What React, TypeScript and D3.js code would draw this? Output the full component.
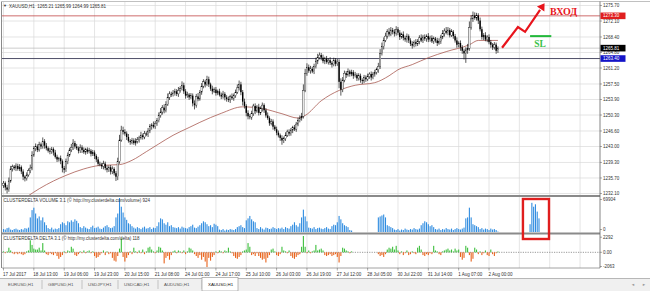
import React from "react";
import * as d3 from "d3";

// ---------- DATA ----------
const firstOpen = 1234.0;
const closes = [
  1234.5,1233.5,1233.0,1235.0,1237.8,1238.3,1238.0,1238.5,1237.8,1238.2,1237.2,1236.0,1235.6,1236.4,1237.4,1238.0,1241.0,1242.5,1243.0,1242.2,
  1243.5,1243.0,1244.2,1243.2,1242.6,1242.0,1241.8,1242.4,1241.6,1240.6,1240.0,1240.3,1239.6,1238.0,1237.6,1239.5,1241.0,1242.2,1242.8,1243.8,
  1243.0,1242.6,1242.0,1242.8,1242.2,1241.7,1242.3,1241.8,1242.0,1241.3,1241.6,1240.8,1240.0,1239.0,1238.8,1238.4,1239.0,1238.0,1237.6,1238.2,
  1237.2,1237.8,1236.8,1236.0,1239.5,1244.5,1246.8,1246.4,1246.0,1245.2,1244.3,1244.0,1244.4,1243.8,1244.2,1244.6,1245.0,1245.6,1245.2,1246.0,
  1245.8,1246.6,1247.6,1248.0,1247.6,1248.4,1249.0,1250.2,1251.0,1252.0,1251.4,1252.8,1254.4,1255.2,1255.0,1255.4,1255.8,1255.2,1256.0,1256.4,
  1257.2,1255.8,1254.8,1255.0,1254.4,1254.8,1253.0,1252.6,1254.6,1254.0,1255.6,1257.0,1258.0,1257.4,1258.6,1257.4,1256.4,1255.8,1256.2,1255.4,
  1255.8,1255.0,1254.6,1255.2,1254.4,1254.0,1253.8,1254.6,1254.2,1254.8,1255.6,1256.6,1257.4,1255.6,1253.4,1252.4,1250.8,1250.0,1249.8,1250.6,
  1252.4,1251.2,1252.2,1250.8,1251.8,1252.6,1251.4,1250.2,1249.6,1248.4,1248.8,1247.6,1247.0,1246.2,1245.6,1245.0,1244.4,1244.8,1245.6,1246.4,
  1246.0,1246.8,1247.4,1247.0,1248.2,1249.0,1249.6,1250.0,1256.0,1260.0,1261.4,1260.6,1261.0,1260.4,1261.6,1262.8,1263.6,1264.2,1263.6,1262.8,
  1263.4,1262.6,1263.0,1262.4,1262.0,1263.0,1262.2,1262.6,1258.0,1256.2,1258.4,1260.0,1259.6,1260.4,1259.8,1260.2,1259.4,1259.6,1258.8,1259.4,
  1258.4,1258.2,1259.0,1258.6,1259.2,1259.8,1259.0,1259.8,1260.2,1260.8,1261.6,1264.6,1266.2,1267.6,1268.6,1269.6,1269.0,1270.0,1269.6,1269.2,
  1270.2,1269.4,1268.4,1269.0,1268.2,1267.8,1268.6,1267.6,1266.8,1266.4,1267.2,1266.8,1267.4,1268.2,1267.6,1268.4,1268.0,1268.6,1267.8,1268.2,
  1267.4,1268.0,1267.6,1267.0,1267.4,1268.4,1269.2,1269.8,1269.4,1270.0,1268.8,1269.6,1268.6,1267.6,1266.6,1267.0,1266.0,1265.2,1264.6,1265.4,
  1265.8,1270.6,1272.6,1273.4,1272.8,1273.4,1272.2,1270.2,1268.4,1268.8,1267.8,1268.4,1267.2,1266.6,1266.0,1266.6,1265.2,1265.81,
];
const wickUp = [
  .5,.4,.6,.8,.7,.5,.4,.6,.5,.7,.4,.5,.3,.6,.5,.8,.9,.6,.7,.5,
  .6,.4,.9,.5,.6,.4,.7,.5,.4,.6,.5,.3,.6,.4,.5,.7,.6,.5,.8,.9,
  .5,.6,.4,.7,.5,.6,.4,.5,.7,.4,.6,.5,.4,.6,.5,.4,.7,.5,.6,.4,
  .5,.6,.4,.5,.9,1.2,1.0,.8,.6,.5,.7,.4,.6,.5,.7,.6,.5,.8,.4,.6,
  .5,.7,.6,.4,.8,.5,.6,.7,.9,.6,.8,.7,.9,.6,.5,.7,.6,.5,.8,.6,
  .9,.6,.5,.7,.4,.6,.5,.7,.6,.8,.5,.7,.6,.5,.8,.6,.4,.7,.5,.6,
  .4,.6,.5,.7,.4,.5,.6,.4,.7,.5,.6,.8,.9,.6,.5,.7,.4,.6,.5,.7,
  .5,.6,.4,.7,.5,.6,.4,.5,.7,.4,.6,.5,.4,.6,.5,.4,.6,.5,.7,.5,
  .6,.5,.4,.6,.5,.7,.6,.8,1.4,1.0,.9,.6,.7,.5,.6,.8,.9,.6,.5,.7,
  .4,.6,.5,.7,.4,.6,.5,.7,.6,.8,.7,.6,.5,.7,.4,.6,.5,.7,.4,.6,
  .5,.4,.6,.5,.7,.4,.6,.5,.6,.5,.8,1.0,.9,.7,.8,.6,.9,.7,.5,.6,
  .7,.5,.6,.4,.7,.5,.6,.4,.5,.6,.4,.7,.5,.6,.8,.5,.6,.4,.7,.5,
  .6,.5,.4,.6,.7,.5,.8,.6,.9,.7,.5,.6,.4,.5,.7,.4,.6,.5,.4,.6,
  1.0,1.4,.9,.9,.7,.6,.5,.7,.6,.5,.7,.4,.6,.5,.4,.6,.5,.4,
];
const wickDown = [
  .6,.7,.9,.5,.4,.6,.5,.7,.4,.5,.6,.8,.7,.5,.4,.6,.5,.4,.6,.5,
  .4,.6,.5,.7,.5,.4,.6,.5,.7,.4,.6,.5,.7,1.0,.8,.5,.6,.4,.5,.6,
  .5,.4,.6,.5,.7,.4,.6,.5,.4,.6,.5,.7,.6,.5,.4,.6,.7,.5,.6,.5,
  .7,.6,.5,1.0,.8,.5,.4,.6,.5,.7,.4,.6,.5,.4,.6,.5,.7,.4,.6,.5,
  .4,.6,.5,.7,.4,.5,.6,.4,.5,.6,.7,.5,.4,.6,.5,.4,.6,.5,.7,.5,
  .4,.6,.7,.5,.6,.4,.7,1.0,.6,.5,.4,.6,.5,.7,.4,.6,.5,.7,.4,.6,
  .5,.4,.6,.5,.7,.6,.5,.7,.4,.6,.5,.4,.6,.7,.9,.6,.8,.7,.5,.6,
  .5,.7,.4,.6,.5,.7,.6,.5,.4,.6,.5,.7,.4,.6,.5,.7,1.0,.6,.5,.4,
  .6,.5,.7,.4,.6,.5,.4,.6,.5,.4,.6,.5,.7,.4,.6,.5,.7,.4,.6,.5,
  .7,.4,.6,.5,.7,.4,.6,.5,1.5,1.4,.6,.5,.7,.4,.6,.5,.7,.4,.6,.5,
  .6,.7,.5,.6,.4,.5,.7,.4,.6,.5,.7,.6,.5,.7,.4,.6,.5,.4,.6,.7,
  .5,.6,.7,.4,.6,.5,.7,.6,.5,.7,.4,.6,.5,.7,.4,.6,.5,.7,.6,.5,
  .4,.6,.5,.7,.4,.6,.5,.7,.4,.6,.5,.4,.6,.5,.7,.6,.8,.7,1.4,2.2,
  .9,.6,.5,.7,.4,.6,.8,.5,.6,.7,.4,.6,.5,.7,.6,.5,.7,.5,
];
// moving average read at sampled bars: [bar, price]
const maPoints: [number, number][] = [
  [14,1231.6],[20,1233.2],[28,1235.0],[35,1236.3],[45,1237.8],[54,1238.6],[65,1238.8],[72,1239.8],
  [80,1241.8],[87,1243.6],[95,1245.6],[104,1247.4],[110,1248.6],[122,1250.7],[134,1252.2],[145,1251.8],
  [156,1250.6],[165,1249.6],[169,1250.2],[178,1253.6],[188,1256.0],[197,1257.2],[208,1257.8],[216,1259.4],
  [221,1260.8],[229,1262.0],[238,1263.6],[248,1265.0],[261,1266.6],[266,1267.6],[277,1267.6],
];
// volume, thousands
const volumeK = [
  6,5,8,9,5,4,6,7,5,4,6,5,8,7,9,
  30,45,50,38,28,32,24,30,20,14,
  8,6,9,5,7,6,8,
  16,20,18,14,
  22,20,24,21,26,23,18,
  10,8,12,9,7,6,10,13,8,9,11,7,6,9,12,14,10,8,9,12,
  30,38,69.9,52,40,30,25,18,16,12,
  9,7,10,8,6,9,11,7,8,10,6,9,8,12,
  20,28,26,
  18,15,20,12,14,10,
  9,8,10,7,11,9,8,7,10,12,15,9,8,11,
  14,18,22,20,16,12,14,10,17,15,12,
  5,4,6,3,5,4,6,5,4,6,
  10,12,14,10,8,
  24,28,33,26,22,20,
  8,6,10,7,5,9,8,6,7,10,8,
  6,8,7,9,6,10,8,7,
  12,15,20,14,11,
  18,30,46,32,22,
  9,8,7,10,6,8,9,7,6,8,10,7,6,
  12,15,14,20,33,26,18,14,12,10,
  4,3,
  0,0,0,0,0,0,0,0,0,0,0,0,0,0,
  30,32,34,36,30,
  14,12,10,8,
  5,4,6,3,5,4,7,5,4,6,5,8,6,5,7,
  14,18,22,20,16,12,14,10,
  6,5,7,4,6,5,8,6,5,7,4,6,8,6,5,7,9,
  28,30,50,30,
  16,14,12,10,
  6,8,5,7,6,4,7,5,6,4,0.924,
];
const forecastStart = 295;
const forecastVolumeK = [16, 60, 52, 57, 42, 28];
const delta = [
  130,-130,130,650,260,-130,-260,-130,-260,-130,-260,-390,-260,130,260,
  1690,1040,520,390,
  390,650,260,1300,260,
  -260,-390,-130,-260,-390,-130,
  -520,-910,-650,-390,
  130,-130,260,130,
  780,520,
  -390,-520,-260,
  130,-130,260,-130,130,260,-130,130,
  -520,-780,-650,-390,
  -130,260,-390,130,-260,-130,
  -780,-1170,-1300,-520,
  520,1950,-650,-1300,-780,-390,
  130,-260,650,130,-130,260,-130,390,-260,130,
  650,780,390,
  130,-130,260,
  780,650,260,
  -1560,-780,-520,-1040,-390,
  130,260,-130,260,130,-130,260,-260,130,
  650,520,260,
  -260,-520,-780,-390,-1040,-650,-1300,-2063,-780,-1170,-650,-390,
  130,-130,260,130,-130,260,130,650,130,
  -130,-520,-780,-910,-650,-390,
  130,260,
  390,1300,780,
  -390,-260,-520,-130,
  -520,-780,-1040,-910,-1430,-780,-390,
  390,520,130,
  -390,-520,-260,
  780,260,
  130,-130,260,
  -520,-780,-910,-650,-390,-260,
  780,2292,780,
  -130,260,-130,130,
  260,1040,260,
  390,520,260,
  -390,-520,-390,-260,-520,-390,-260,
  -650,-1430,-520,
  650,520,260,
  130,-130,130,
  0,0,0,0,0,0,0,0,0,0,0,0,0,0,
  -260,-520,-390,-650,-260,
  390,650,520,780,390,910,260,
  -260,130,-390,-130,260,-390,-260,130,-130,-260,
  650,910,390,
  -390,-520,-260,-390,-130,-260,
  910,260,
  130,-260,-390,130,
  260,390,520,260,390,130,520,260,390,
  -650,-1040,-780,
  910,650,
  -390,-1300,-910,
  650,390,
  -260,130,-390,-130,260,
  -390,-520,390,-260,-520,-130,118,
];
const priceTicks = [1232.10,1235.70,1239.30,1243.00,1246.60,1250.30,1253.90,1257.50,1261.20,1264.80,1268.40,1272.10,1275.70];
const timeLabels = ["17 Jul 2017","18 Jul 13:00","19 Jul 06:00","19 Jul 23:00","20 Jul 15:00","21 Jul 08:00","24 Jul 01:00","24 Jul 17:00","25 Jul 10:00","26 Jul 03:00","26 Jul 19:00","27 Jul 12:00","28 Jul 05:00","30 Jul 22:00","31 Jul 14:00","1 Aug 07:00","2 Aug 00:00"];
const labelStep = 17;
const entryLevel = 1273.30;
const bidPrice = 1265.81;
const supportLevel = 1263.40;
const volumeMax = 69904;
const deltaMax = 2292;
const deltaMin = -2063;
const titleText = "XAUUSD,H1  1265.21 1265.99 1264.99 1265.81";
const volumeTitle = "CLUSTERDELTA VOLUME 3.1 (\u00a9 http://my.clusterdelta.com/volume) 924";
const deltaTitle = "CLUSTERDELTA DELTA 3.1 (\u00a9 http://my.clusterdelta.com/delta) 118";
const tabs = ["EURUSD,H1","GBPUSD,H1","USDJPY,H1","USDCAD,H1","AUDUSD,H1","XAUUSD,H1"];
const tabEdges = [2, 42, 82, 118, 158, 202, 238];
// annotation (bar, price)
const arrowBars = [279.3, 288.2, 292.2, 300.6];
const arrowPrices = [1265.9, 1270.7, 1269.6, 1274.7];
const slBars = [295, 306.9];
const slPrice = 1268.6;
const slTextAt: [number, number] = [297.3, 1266.1];
const entryTextAt: [number, number] = [306.1, 1273.5];
const boxBars = [291, 305.6];

const FONT = "'Liberation Sans', Arial, sans-serif";
const FS = 4.5;

export default function App() {
  const W = 650, H = 291;
  const L = 2, R = 600;
  const mainTop = 2, mainBottom = 195;
  const volTop = 197, volBottom = 232.5;
  const dTop = 234.5, dBottom = 268;

  const x = d3.scaleLinear().domain([0, 1]).range([3.5, 3.5 + 1.785]);
  const yP = d3.scaleLinear().domain([1232.1, 1275.7]).range([193.5, 5.5]);
  const yV = d3.scaleLinear().domain([0, volumeMax / 1000]).range([232, 198]);
  const yD = d3.scaleLinear().domain([deltaMin, deltaMax]).range([267, 236]);

  const candles = closes.map((c, i) => {
    const o = i === 0 ? firstOpen : closes[i - 1];
    return { i, o, c, hi: Math.max(o, c) + wickUp[i], lo: Math.min(o, c) - wickDown[i] };
  });
  const maPath = d3.line<[number, number]>().x(d => x(d[0])).y(d => yP(d[1])).curve(d3.curveMonotoneX)(maPoints) || "";
  const gridBars = d3.range(0, 330, labelStep).filter(b => x(b) < R);

  const arrowPts = arrowBars.map((b, k) => [x(b), yP(arrowPrices[k])] as [number, number]);
  const [pA, pB] = [arrowPts[arrowPts.length - 2], arrowPts[arrowPts.length - 1]];
  const dx = pB[0] - pA[0], dy = pB[1] - pA[1];
  const len = Math.hypot(dx, dy);
  const ux = dx / len, uy = dy / len;
  const tip = [pB[0] + ux * 8, pB[1] + uy * 8];
  const base = [pB[0] + ux * 1, pB[1] + uy * 1];
  const head = [
    tip,
    [base[0] - uy * 4.5, base[1] + ux * 4.5],
    [base[0] + uy * 4.5, base[1] - ux * 4.5],
  ].map(p => p.join(",")).join(" ");

  const axisLabel = (v: string, y: number, key: string) => (
    <g key={key}>
      <line x1={R} x2={R + 2} y1={y} y2={y} stroke="#555" strokeWidth={0.5} />
      <text x={R + 3} y={y} dy="0.35em" fontSize={FS} fill="#333" fontFamily={FONT}>{v}</text>
    </g>
  );
  const levelLabel = (v: number, bg: string, key: string) => (
    <g key={key}>
      <rect x={R + 0.5} y={yP(v) - 3.3} width={25} height={6.6} fill={bg} />
      <text x={R + 3} y={yP(v)} dy="0.35em" fontSize={FS} fill="#fff" fontFamily={FONT}>{v.toFixed(2)}</text>
    </g>
  );

  return (
    <svg width={W} height={H} style={{ position: "absolute", left: 0, top: 0, display: "block" }}>
      <defs>
        <clipPath id="mainClip"><rect x={L} y={mainTop} width={R - L} height={mainBottom - mainTop} /></clipPath>
      </defs>
      <rect width={W} height={H} fill="#fff" />

      {/* grid */}
      {priceTicks.map(t => (
        <line key={"hg" + t} x1={L} x2={R} y1={yP(t)} y2={yP(t)} stroke="#dadada" strokeWidth={0.7} />
      ))}
      {gridBars.map(b => (
        <g key={"vg" + b}>
          <line x1={x(b)} x2={x(b)} y1={mainTop} y2={mainBottom} stroke="#dadada" strokeWidth={0.7} />
          <line x1={x(b)} x2={x(b)} y1={volTop} y2={volBottom} stroke="#dadada" strokeWidth={0.7} />
          <line x1={x(b)} x2={x(b)} y1={dTop} y2={dBottom} stroke="#dadada" strokeWidth={0.7} />
        </g>
      ))}

      <g clipPath="url(#mainClip)">
        <line x1={L} x2={R} y1={yP(entryLevel)} y2={yP(entryLevel)} stroke="#c24848" strokeWidth={0.8} />
        <line x1={L} x2={R} y1={yP(bidPrice)} y2={yP(bidPrice)} stroke="#b4b4b4" strokeWidth={0.7} />
        <line x1={L} x2={R} y1={yP(supportLevel)} y2={yP(supportLevel)} stroke="#3c3c58" strokeWidth={0.9} />
        <path d={maPath} fill="none" stroke="#a85a52" strokeWidth={0.8} />
        {candles.map(d => {
          const cx = x(d.i);
          const top = yP(Math.max(d.o, d.c));
          const bot = yP(Math.min(d.o, d.c));
          const bull = d.c >= d.o;
          return (
            <g key={"c" + d.i}>
              <line x1={cx} x2={cx} y1={yP(d.hi)} y2={yP(d.lo)} stroke="#111" strokeWidth={0.7} />
              <rect x={cx - 0.7} y={top} width={1.4} height={Math.max(0.6, bot - top)}
                fill={bull ? "#fff" : "#000"} stroke="#000" strokeWidth={bull ? 0.35 : 0} />
            </g>
          );
        })}
      </g>

      {/* annotations */}
      <polyline points={arrowPts.map(p => p.join(",")).join(" ")} fill="none" stroke="#e8141c" strokeWidth={2.2} strokeLinejoin="miter" />
      <polygon points={head} fill="#e8141c" />
      <text x={x(entryTextAt[0])} y={yP(entryTextAt[1])} fontSize={10} fontWeight="bold" fill="#e8141c"
        fontFamily="'Liberation Serif', 'DejaVu Serif', serif">ВХОД</text>
      <line x1={x(slBars[0])} x2={x(slBars[1])} y1={yP(slPrice)} y2={yP(slPrice)} stroke="#22b83a" strokeWidth={2} />
      <text x={x(slTextAt[0])} y={yP(slTextAt[1])} fontSize={9.5} fontWeight="bold" fill="#3cc24a"
        fontFamily="'Liberation Serif', 'DejaVu Serif', serif">SL</text>

      {/* volume */}
      {volumeK.map((v, i) => v > 0 ? (
        <rect key={"v" + i} x={x(i) - 0.55} y={yV(v)} width={1.1} height={yV(0) - yV(v)} fill="#2f8ce0" />
      ) : null)}
      {forecastVolumeK.map((v, k) => (
        <rect key={"fv" + k} x={x(forecastStart + k) - 0.55} y={yV(v)} width={1.1} height={yV(0) - yV(v)} fill="#2f8ce0" />
      ))}

      {/* delta */}
      <line x1={L} x2={R} y1={yD(0)} y2={yD(0)} stroke="#555" strokeWidth={0.6} strokeDasharray="1.2 1.2" />
      {delta.map((v, i) => v !== 0 ? (
        <rect key={"d" + i} x={x(i) - 0.55} y={Math.min(yD(v), yD(0))} width={1.1}
          height={Math.abs(yD(v) - yD(0))} fill={v > 0 ? "#3cbf3c" : "#e8631c"} />
      ) : null)}

      {/* separators and frame */}
      <rect x={L} y={mainBottom} width={R - L} height={2} fill="#8a8a8a" />
      <rect x={L} y={volBottom} width={R - L} height={2} fill="#8a8a8a" />
      <line x1={L} x2={R} y1={dBottom} y2={dBottom} stroke="#8a8a8a" strokeWidth={0.8} />
      <line x1={1.5} x2={1.5} y1={1.5} y2={dBottom} stroke="#8a8a8a" strokeWidth={1} />
      <line x1={1.5} x2={W} y1={1.5} y2={1.5} stroke="#b0b0b0" strokeWidth={0.8} />
      <line x1={R} x2={R} y1={1.5} y2={dBottom} stroke="#666" strokeWidth={0.8} />

      {/* title texts */}
      <text x={3} y={6} dy="0.35em" fontSize={4} fill="#333" fontFamily={FONT}>▼</text>
      <text x={9} y={6} dy="0.35em" fontSize={FS} fill="#333" fontFamily={FONT} style={{ whiteSpace: "pre" }}>{titleText}</text>
      <text x={3.5} y={200.5} dy="0.35em" fontSize={FS} fill="#333" fontFamily={FONT}>{volumeTitle}</text>
      <text x={3.5} y={238.5} dy="0.35em" fontSize={FS} fill="#333" fontFamily={FONT}>{deltaTitle}</text>

      {/* price axis */}
      {priceTicks.map(t => axisLabel(t.toFixed(2), yP(t), "pt" + t))}
      {levelLabel(entryLevel, "#e01e1e", "ll1")}
      {levelLabel(bidPrice, "#000", "ll2")}
      {levelLabel(supportLevel, "#1414c8", "ll3")}
      {axisLabel(String(volumeMax), yV(volumeMax / 1000) + 1.5, "vmax")}
      {axisLabel("0", yV(0) - 2.5, "vmin")}
      {axisLabel(String(deltaMax), yD(deltaMax) + 1.2, "dmax")}
      {axisLabel("0.00", yD(0), "d0")}
      {axisLabel(String(deltaMin), yD(deltaMin) - 0.5, "dmin")}

      {/* red box */}
      <rect x={x(boxBars[0])} y={199} width={x(boxBars[1]) - x(boxBars[0])} height={40} fill="none" stroke="#e01e1e" strokeWidth={2.4} />

      {/* time axis */}
      {timeLabels.map((t, k) => (
        <g key={"tl" + k}>
          <line x1={x(k * labelStep)} x2={x(k * labelStep)} y1={dBottom} y2={dBottom + 2.5} stroke="#555" strokeWidth={0.5} />
          <text x={x(k * labelStep) - 0.5} y={274} dy="0.35em" fontSize={FS} fill="#333" fontFamily={FONT}>{t}</text>
        </g>
      ))}

      {/* tabs */}
      <rect x={0} y={278} width={W} height={13} fill="#f0f0f0" />
      <line x1={0} x2={W} y1={278.5} y2={278.5} stroke="#a8a8a8" strokeWidth={0.8} />
      {tabs.map((t, k) => {
        const a = tabEdges[k], b = tabEdges[k + 1];
        const active = k === tabs.length - 1;
        return (
          <g key={"tab" + k}>
            {active ? <rect x={a} y={277.5} width={b - a} height={13.5} fill="#fff" stroke="#9a9a9a" strokeWidth={0.7} /> :
              <line x1={b} x2={b} y1={280} y2={289} stroke="#b0b0b0" strokeWidth={0.7} />}
            <text x={a + 6} y={284.5} dy="0.35em" fontSize={4.4} fill={active ? "#111" : "#555"} fontFamily={FONT}>{t}</text>
          </g>
        );
      })}
      <text x={631} y={284.5} dy="0.35em" fontSize={4} fill="#999" fontFamily={FONT}>◄</text>
      <text x={642} y={284.5} dy="0.35em" fontSize={4} fill="#999" fontFamily={FONT}>►</text>
    </svg>
  );
}
